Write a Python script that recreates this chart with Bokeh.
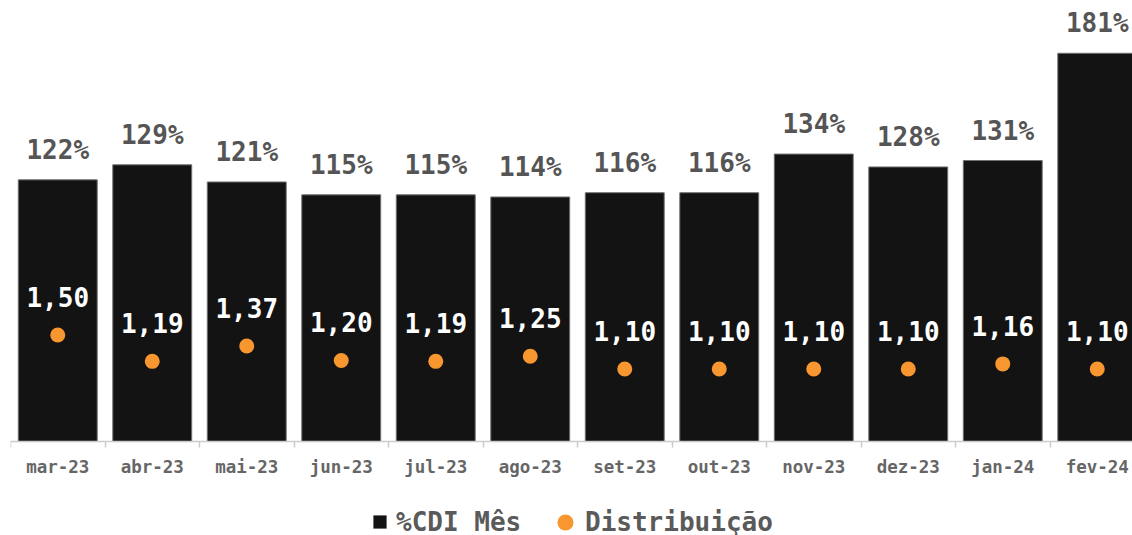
import numpy as np
from bokeh.plotting import figure
from bokeh.models import ColumnDataSource, Range1d, LinearAxis, FixedTicker, Legend, LegendItem
from bokeh.core.properties import value
from bokeh.embed import file_html
from bokeh.resources import INLINE

meses = ["mar-23", "abr-23", "mai-23", "jun-23", "jul-23", "ago-23",
         "set-23", "out-23", "nov-23", "dez-23", "jan-24", "fev-24"]
cdi_mes = [122, 129, 121, 115, 115, 114, 116, 116, 134, 128, 131, 181]
distribuicao = [1.50, 1.19, 1.37, 1.20, 1.19, 1.25, 1.10, 1.10, 1.10, 1.10, 1.16, 1.10]

FONT = "DejaVu Sans Mono"
BAR = "#131313"
ORANGE = "#F8962F"

x = np.arange(len(meses)) + 0.5
src = ColumnDataSource(dict(
    x=x, cdi=cdi_mes, dist=distribuicao,
    cdi_lbl=[f"{v}%" for v in cdi_mes],
    dist_lbl=[f"{v:.2f}".replace(".", ",") for v in distribuicao],
))

p = figure(width=1132, height=535, output_backend="svg", toolbar_location=None,
           x_range=Range1d(0, 11.873), y_range=Range1d(-43.8, 205.6),
           x_axis_type=None, y_axis_type=None,
           min_border_left=10, min_border_right=0, min_border_top=0, min_border_bottom=0)
p.extra_y_ranges = {"dist": Range1d(-0.859, 5.435)}
p.outline_line_color = None
p.background_fill_color = "white"

p.vbar(x="x", top="cdi", bottom=0, width=0.835, source=src,
       fill_color=BAR, line_color="#707070", line_width=1)
dots = p.scatter(x="x", y="dist", y_range_name="dist", size=15, marker="circle",
                 fill_color=ORANGE, line_color=None, source=src)

p.text(x="x", y="cdi", text="cdi_lbl", source=src, text_font=value(FONT),
       text_font_style="bold", text_font_size="26px", text_color="#555555",
       text_align="center", text_baseline="alphabetic", y_offset=-30)
p.text(x="x", y="dist", y_range_name="dist", text="dist_lbl", source=src,
       text_font=value(FONT), text_font_style="bold", text_font_size="26px",
       text_color="white", text_align="center", text_baseline="alphabetic", y_offset=-38)

xaxis = LinearAxis(fixed_location=0,
                   ticker=FixedTicker(ticks=list(x), minor_ticks=list(range(len(meses) + 1))))
xaxis.major_label_overrides = {float(xi): m for xi, m in zip(x, meses)}
xaxis.axis_line_color = "#cccccc"
xaxis.axis_line_width = 1.5
xaxis.major_tick_line_color = None
xaxis.major_tick_out = 0
xaxis.major_tick_in = 0
xaxis.minor_tick_out = 6
xaxis.minor_tick_in = 0
xaxis.minor_tick_line_color = "#cccccc"
xaxis.minor_tick_line_width = 1.5
xaxis.major_label_standoff = 9
xaxis.major_label_text_font = FONT
xaxis.major_label_text_font_style = "bold"
xaxis.major_label_text_font_size = "17.5px"
xaxis.major_label_text_color = "#666666"
p.add_layout(xaxis, "below")

sq = p.scatter(x=[np.nan], y=[np.nan], marker="square", size=13,
               fill_color=BAR, line_color=None)

common = dict(padding=0, margin=0, border_line_color=None, background_fill_alpha=0,
              label_text_font=FONT, label_text_font_style="bold",
              label_text_font_size="26px", label_text_color="#5a5a5a",
              orientation="horizontal")
leg1 = Legend(items=[LegendItem(label="%CDI Mês", renderers=[sq])],
              location=(353, -3), glyph_width=33, glyph_height=33,
              label_standoff=0, **common)
leg2 = Legend(items=[LegendItem(label="Distribuição", renderers=[dots])],
              location=(535, -6.5), glyph_width=40, glyph_height=40,
              label_standoff=0, **common)
p.add_layout(leg1)
p.add_layout(leg2)

open("out.html", "w", encoding="utf-8").write(file_html(p, INLINE))
